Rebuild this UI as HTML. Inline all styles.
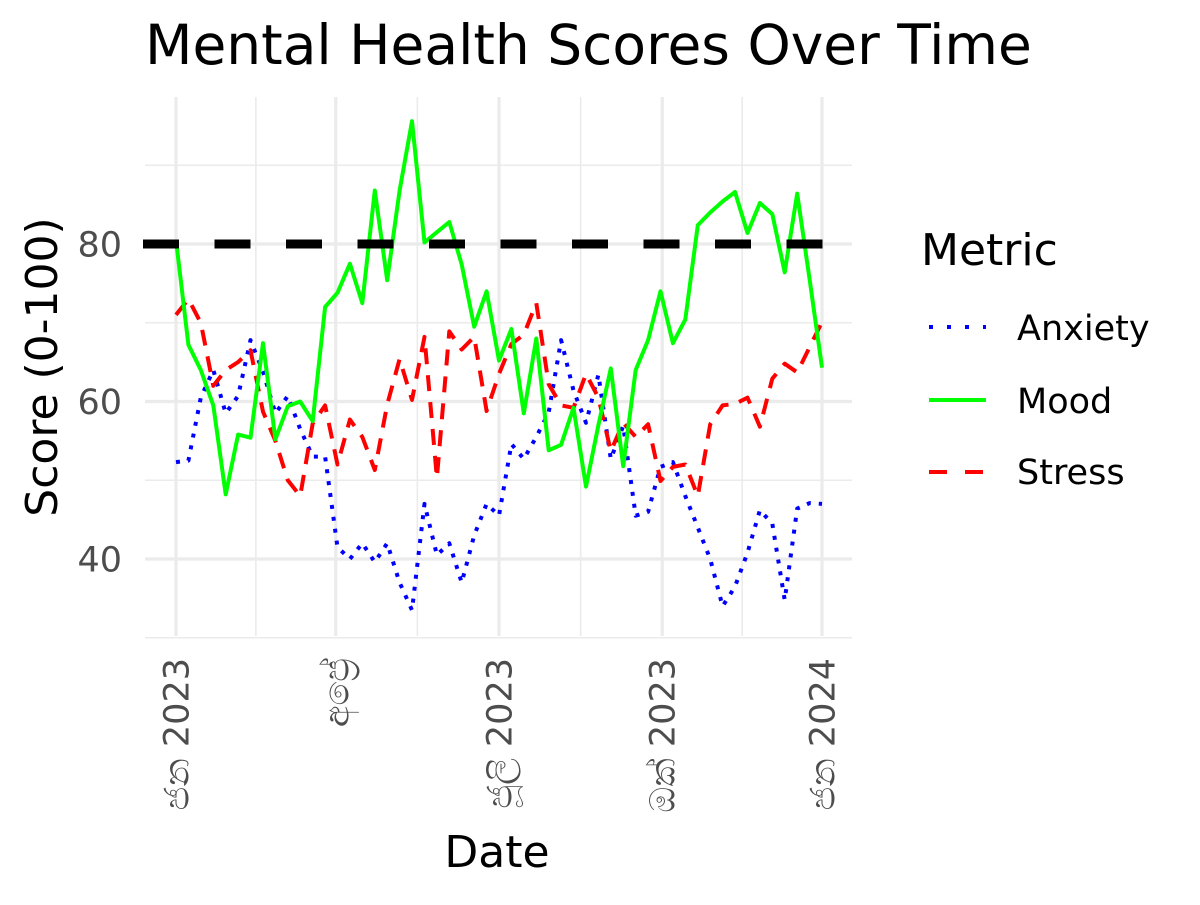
<!DOCTYPE html>
<html><head><meta charset="utf-8"><style>
body{margin:0;background:#fff;}
svg text{font-family:"DejaVu Sans","Liberation Sans",sans-serif;}
</style></head><body>
<svg id="chart" width="1200" height="900" viewBox="0 0 1200 900" xmlns="http://www.w3.org/2000/svg">
<rect width="1200" height="900" fill="#fff"/>
<text x="145" y="64" font-size="55" fill="#000">Mental Health Scores Over Time</text>
<g id="grid"></g>
<g id="series"></g>
<g id="axes"></g>
<text transform="translate(57,367) rotate(-90)" text-anchor="middle" font-size="44" fill="#000">Score (0-100)</text>
<text x="497" y="867" text-anchor="middle" font-size="44" fill="#000">Date</text>
<g>
<text x="921" y="265" font-size="44" fill="#000">Metric</text>
<g>
<line x1="929" y1="327" x2="986" y2="327" stroke="#0000ff" stroke-width="4" stroke-dasharray="4,14"/>
<text x="1017" y="340" font-size="35" fill="#000">Anxiety</text></g>
<g>
<line x1="929" y1="400" x2="986" y2="400" stroke="#00ff00" stroke-width="4"/>
<text x="1017" y="413" font-size="35" fill="#000">Mood</text></g>
<g>
<line x1="929" y1="472" x2="986" y2="472" stroke="#ff0000" stroke-width="4" stroke-dasharray="18,18"/>
<text x="1017" y="484" font-size="35" fill="#000">Stress</text></g>
</g>
</svg>
<script>
const mood=[80.5,67.2,64,59.5,48.2,55.8,55.4,67.4,55.2,59.4,60,57.5,72,73.8,77.5,72.5,86.8,75.4,86.8,95.6,80.2,81.5,82.8,77.4,69.5,74,65.2,69.2,58.5,68,53.8,54.5,59.2,49.2,57,64.2,51.8,64,67.8,74,67.4,70.4,82.4,84,85.4,86.6,81.4,85.2,83.8,76.4,86.4,75.5,64.3];
const stress=[71,73,70,62,64,65,66.5,58.7,55,50,48,57.2,59.5,52,57.7,55.5,51.3,59.6,65.4,60.2,68.2,50.3,68.9,66.6,68.2,58.8,63.5,67.3,68.5,72.5,62.2,59.5,59.2,63.5,60.5,53.7,57.3,55.5,57.1,49.9,51.7,52,48,57.1,59.5,59.7,60.5,56.8,62.9,64.8,63.7,66.9,70.1];
const anxiety=[52.3,52.5,60.5,64,58.5,60.7,67.8,63.8,58.5,60.7,56.5,53,53,41.5,40,42,39.6,42,37,33.5,47,40.5,42,37,43,47,45.5,54.6,52.7,55.5,58.6,67.8,61.4,57.3,63.4,52.7,56.9,45.5,46,51.7,52.3,48,44,40,34,36.5,40.8,46.2,44.5,34.8,46.4,47.1,47];
const yTicks=[40,60,80];
const yMinor=[30,50,70,90];
const xTickLabels=["ජන 2023","අප්‍රේ","ජූලි 2023","ඔක් 2023","ජන 2024"];
const xTickWeeks=[0,12.86,26,39.14,52];
const refValue=80;
const NS="http://www.w3.org/2000/svg";
const L=145,R=852,T=97,B=636;
function xs(i){return 176+i*(822-176)/52;}
function ys(v){return 244+(80-v)*(559-244)/40;}
function mk(tag,attrs,parent){const e=document.createElementNS(NS,tag);for(const k in attrs)e.setAttribute(k,attrs[k]);parent.appendChild(e);return e;}
const grid=document.getElementById('grid'),ser=document.getElementById('series'),ax=document.getElementById('axes');
yMinor.forEach(v=>{const l=mk('line',{x1:L,x2:R,y1:ys(v),y2:ys(v),stroke:'#ebebeb','stroke-width':1.6},grid);

});
for(let k=0;k<4;k++){const w=(xTickWeeks[k]+xTickWeeks[k+1])/2;const l=mk('line',{x1:xs(w),x2:xs(w),y1:T,y2:B,stroke:'#ebebeb','stroke-width':1.6},grid);

}
yTicks.forEach(v=>{const l=mk('line',{x1:L,x2:R,y1:ys(v),y2:ys(v),stroke:'#ebebeb','stroke-width':3.2},grid);


const t=mk('text',{x:122,y:ys(v)+12.5,'text-anchor':'end','font-size':35,fill:'#4d4d4d'},ax);t.textContent=v;

});
xTickWeeks.forEach((w,k)=>{const x=xs(w);const l=mk('line',{x1:x,x2:x,y1:T,y2:B,stroke:'#ebebeb','stroke-width':3.2},grid);


const t=mk('text',{transform:`translate(${x+12.5},${658}) rotate(-90)`,'text-anchor':'end','font-size':35,fill:'#4d4d4d'},ax);
t.textContent=xTickLabels[k];

});
function path(arr,color,dash,name){const d=arr.map((v,i)=>(i?'L':'M')+xs(i).toFixed(1)+','+ys(v).toFixed(1)).join('');
const p=mk('path',{d:d,fill:'none',stroke:color,'stroke-width':4,'stroke-linejoin':'round'},ser);
if(dash)p.setAttribute('stroke-dasharray',dash);

}
path(anxiety,'#0000ff','4,8','anxiety-line');
path(stress,'#ff0000','16,11','stress-line');
path(mood,'#00ff00',null,'mood-line');
const ref=mk('line',{x1:L-2,x2:R,y1:ys(refValue),y2:ys(refValue),stroke:'#000','stroke-width':9,'stroke-dasharray':'36,35.5'},ser);


</script>
</body></html>
